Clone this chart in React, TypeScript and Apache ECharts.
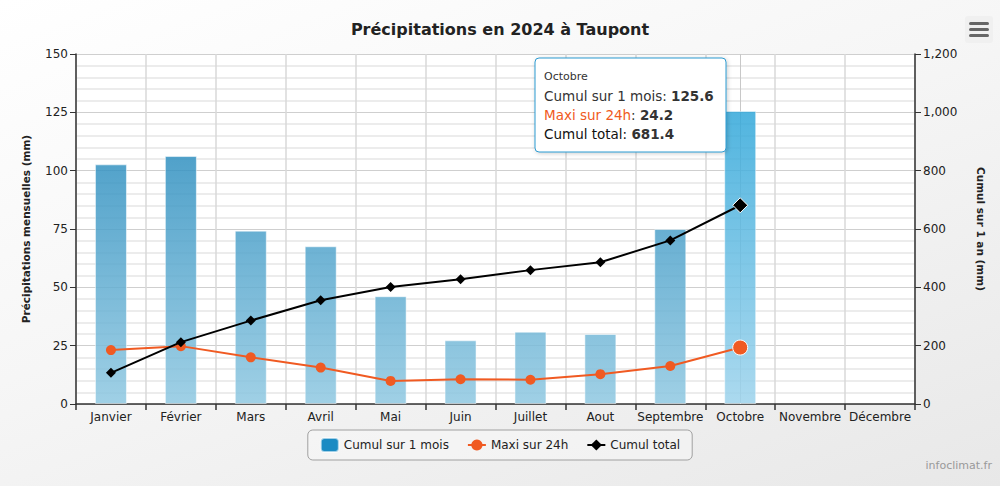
import React, { useEffect, useRef } from "react";
import * as echarts from "echarts";

const categories = ["Janvier", "Février", "Mars", "Avril", "Mai", "Juin", "Juillet", "Aout", "Septembre", "Octobre", "Novembre", "Décembre"];
const cumulMois: (number | null)[] = [102.7, 106.3, 74.3, 67.6, 46.2, 27.3, 31.0, 30.0, 75.0, 125.6, null, null];
const maxi24h: (number | null)[] = [23.1, 24.8, 20.0, 15.6, 9.9, 10.6, 10.4, 12.8, 16.3, 24.2, null, null];
const cumulTotal: (number | null)[] = [107, 212, 286, 356, 401, 428, 459, 486, 561, 681.4, null, null];
const leftTicks = { min: 0, max: 150, interval: 25 };
const rightTicks = { min: 0, max: 1200, interval: 200 };
const highlightIndex = 9;

const FONT = "DejaVu Sans";
const GRID = { left: 76, right: 85, top: 54, bottom: 82 };

export default function App() {
  const ref = useRef<HTMLDivElement>(null);
  useEffect(() => {
    document.body.style.margin = "0";
    if (!ref.current) return;
    const chart = echarts.init(ref.current, null, { renderer: "svg" });
    const plotTop = GRID.top;
    const plotBottom = 486 - GRID.bottom;
    const barGrad = new echarts.graphic.LinearGradient(0, plotTop, 0, plotBottom, [
      { offset: 0, color: "#0b7ab3" },
      { offset: 1, color: "#8fc8e1" },
    ], true);
    const barGradHi = new echarts.graphic.LinearGradient(0, plotTop, 0, plotBottom, [
      { offset: 0, color: "#1d9fd6" },
      { offset: 1, color: "#9dd3ec" },
    ], true);

    const barData = cumulMois.map((v, i) =>
      i === highlightIndex
        ? { value: v, itemStyle: { color: barGradHi } }
        : v
    );
    const maxiData = maxi24h.map((v, i) =>
      i === highlightIndex
        ? { value: v, symbolSize: 15, itemStyle: { borderColor: "#ffffff", borderWidth: 1 } }
        : v
    );
    const totalData = cumulTotal.map((v, i) =>
      i === highlightIndex
        ? { value: v, symbolSize: 15, itemStyle: { borderColor: "#ffffff", borderWidth: 1 } }
        : v
    );

    const tipX = 535;
    const tipY = 58;
    const cat = categories[highlightIndex];
    const TZ = 100;

    chart.setOption({
      animation: false,
      textStyle: { fontFamily: FONT },
      title: {
        text: "Précipitations en 2024 à Taupont",
        left: "center",
        top: 16,
        textStyle: { fontFamily: FONT, fontSize: 16, fontWeight: "bold", color: "#222" },
      },
      grid: { ...GRID, show: true, backgroundColor: "#ffffff", borderWidth: 0 },
      legend: {
        left: "center",
        top: 430,
        itemWidth: 18,
        itemHeight: 14,
        itemGap: 18,
        padding: [7, 12, 7, 12],
        borderColor: "#a0a0a0",
        borderWidth: 1,
        borderRadius: 5,
        backgroundColor: "rgba(255,255,255,0.3)",
        textStyle: { fontFamily: FONT, fontSize: 12, color: "#222" },
        data: [
          { name: "Cumul sur 1 mois", icon: "roundRect", itemStyle: { color: "#1b8bc3", opacity: 1 } },
          { name: "Maxi sur 24h" },
          { name: "Cumul total" },
        ],
      },
      xAxis: {
        type: "category",
        data: categories,
        boundaryGap: true,
        axisLine: { lineStyle: { color: "#333", width: 1.5 } },
        axisTick: { show: true, interval: 0, length: 6, lineStyle: { color: "#333", width: 1.5 } },
        axisLabel: { interval: 0, fontFamily: FONT, fontSize: 12, color: "#222", margin: 7 },
        splitLine: { show: true, interval: 0, lineStyle: { color: "#d9d9d9", width: 1.5 } },
      },
      yAxis: [
        {
          type: "value",
          ...leftTicks,
          name: "Précipitations mensuelles (mm)",
          nameLocation: "middle",
          nameGap: 45,
          nameTextStyle: { fontFamily: FONT, fontSize: 10.5, fontWeight: "bold", color: "#222" },
          axisLine: { show: true, lineStyle: { color: "#333", width: 1.5 } },
          axisTick: { show: true, length: 6, lineStyle: { color: "#333" } },
          axisLabel: { fontFamily: FONT, fontSize: 12, color: "#222", margin: 8 },
          splitLine: { show: true, lineStyle: { color: "#cfcfcf", width: 1 } },
          minorTick: { show: false, splitNumber: 5 },
          minorSplitLine: { show: true, lineStyle: { color: "#e6e6e6", width: 1.5 } },
        },
        {
          type: "value",
          ...rightTicks,
          name: "Cumul sur 1 an (mm)",
          nameLocation: "middle",
          nameGap: 60,
          nameRotate: -90,
          nameTextStyle: { fontFamily: FONT, fontSize: 10.5, fontWeight: "bold", color: "#222" },
          axisLine: { show: true, lineStyle: { color: "#333", width: 1.5 } },
          axisTick: { show: true, length: 6, lineStyle: { color: "#333" } },
          axisLabel: {
            fontFamily: FONT,
            fontSize: 12,
            color: "#222",
            margin: 8,
            formatter: (v: number) => v.toLocaleString("en-US"),
          },
          splitLine: { show: false },
        },
      ],
      series: [
        {
          name: "Cumul sur 1 mois",
          type: "bar",
          yAxisIndex: 0,
          barWidth: 32,
          data: barData,
          itemStyle: { color: barGrad, opacity: 0.85, borderColor: "rgba(255,255,255,0.6)", borderWidth: 1 },
          markLine: {
            silent: true,
            symbol: "none",
            label: { show: false },
            lineStyle: { color: "#c8c8c8", width: 1, type: "solid" },
            data: [{ xAxis: cat }],
            z: 1,
          },
        },
        {
          name: "Maxi sur 24h",
          type: "line",
          yAxisIndex: 0,
          data: maxiData,
          symbol: "circle",
          symbolSize: 10,
          lineStyle: { color: "#f05a22", width: 2 },
          itemStyle: { color: "#f05a22" },
          z: 4,
        },
        {
          name: "Cumul total",
          type: "line",
          yAxisIndex: 1,
          data: totalData,
          symbol: "diamond",
          symbolSize: 10,
          lineStyle: { color: "#000000", width: 2 },
          itemStyle: { color: "#000000" },
          z: 5,
        },
      ],
      graphic: [
        {
          type: "group",
          left: 965,
          top: 16,
          children: [
            { type: "rect", shape: { x: 0, y: 0, width: 28, height: 27, r: 3 }, style: { fill: "#f0f0f0" } },
            { type: "rect", shape: { x: 4, y: 6, width: 20, height: 3, r: 1.5 }, style: { fill: "#666" } },
            { type: "rect", shape: { x: 4, y: 12, width: 20, height: 3, r: 1.5 }, style: { fill: "#666" } },
            { type: "rect", shape: { x: 4, y: 18, width: 20, height: 3, r: 1.5 }, style: { fill: "#666" } },
          ],
        },
        {
          type: "text",
          right: 8,
          top: 460,
          style: { text: "infoclimat.fr", font: `11px "${FONT}"`, fill: "#999" },
        },
        {
          type: "rect",
          x: tipX,
          y: tipY,
          z: TZ,
          shape: { x: 0, y: 0, width: 191, height: 94, r: 4 },
          style: {
            fill: "#ffffff",
            stroke: "#2d9ad0",
            lineWidth: 1,
            shadowBlur: 4,
            shadowColor: "rgba(0,0,0,0.2)",
            shadowOffsetX: 1,
            shadowOffsetY: 1,
          },
        },
        {
          type: "text",
          x: tipX + 9,
          y: tipY + 13,
          z: TZ + 1,
          style: { text: cat, font: `11px "${FONT}"`, fill: "#333" },
        },
        {
          type: "text",
          x: tipX + 9,
          y: tipY + 31,
          z: TZ + 1,
          style: {
            text: `{a|Cumul sur 1 mois: }{b|${cumulMois[highlightIndex]}}`,
            rich: {
              a: { fontFamily: FONT, fontSize: 13.5, fill: "#333" },
              b: { fontFamily: FONT, fontSize: 13.5, fontWeight: "bold", fill: "#333" },
            },
          },
        },
        {
          type: "text",
          x: tipX + 9,
          y: tipY + 50,
          z: TZ + 1,
          style: {
            text: `{o|Maxi sur 24h}{a|: }{b|${maxi24h[highlightIndex]}}`,
            rich: {
              o: { fontFamily: FONT, fontSize: 13.5, fill: "#f05a22" },
              a: { fontFamily: FONT, fontSize: 13.5, fill: "#333" },
              b: { fontFamily: FONT, fontSize: 13.5, fontWeight: "bold", fill: "#333" },
            },
          },
        },
        {
          type: "text",
          x: tipX + 9,
          y: tipY + 69,
          z: TZ + 1,
          style: {
            text: `{a|Cumul total: }{b|${cumulTotal[highlightIndex]}}`,
            rich: {
              a: { fontFamily: FONT, fontSize: 13.5, fill: "#111" },
              b: { fontFamily: FONT, fontSize: 13.5, fontWeight: "bold", fill: "#333" },
            },
          },
        },
      ],
    });
    return () => chart.dispose();
  }, []);

  return (
    <div
      style={{
        position: "fixed",
        left: 0,
        top: 0,
        width: 1000,
        height: 486,
        background: "linear-gradient(160deg, #ffffff 0%, #f6f6f6 45%, #e8e8e8 100%)",
      }}
    >
      <div ref={ref} style={{ width: 1000, height: 486 }} />
    </div>
  );
}
